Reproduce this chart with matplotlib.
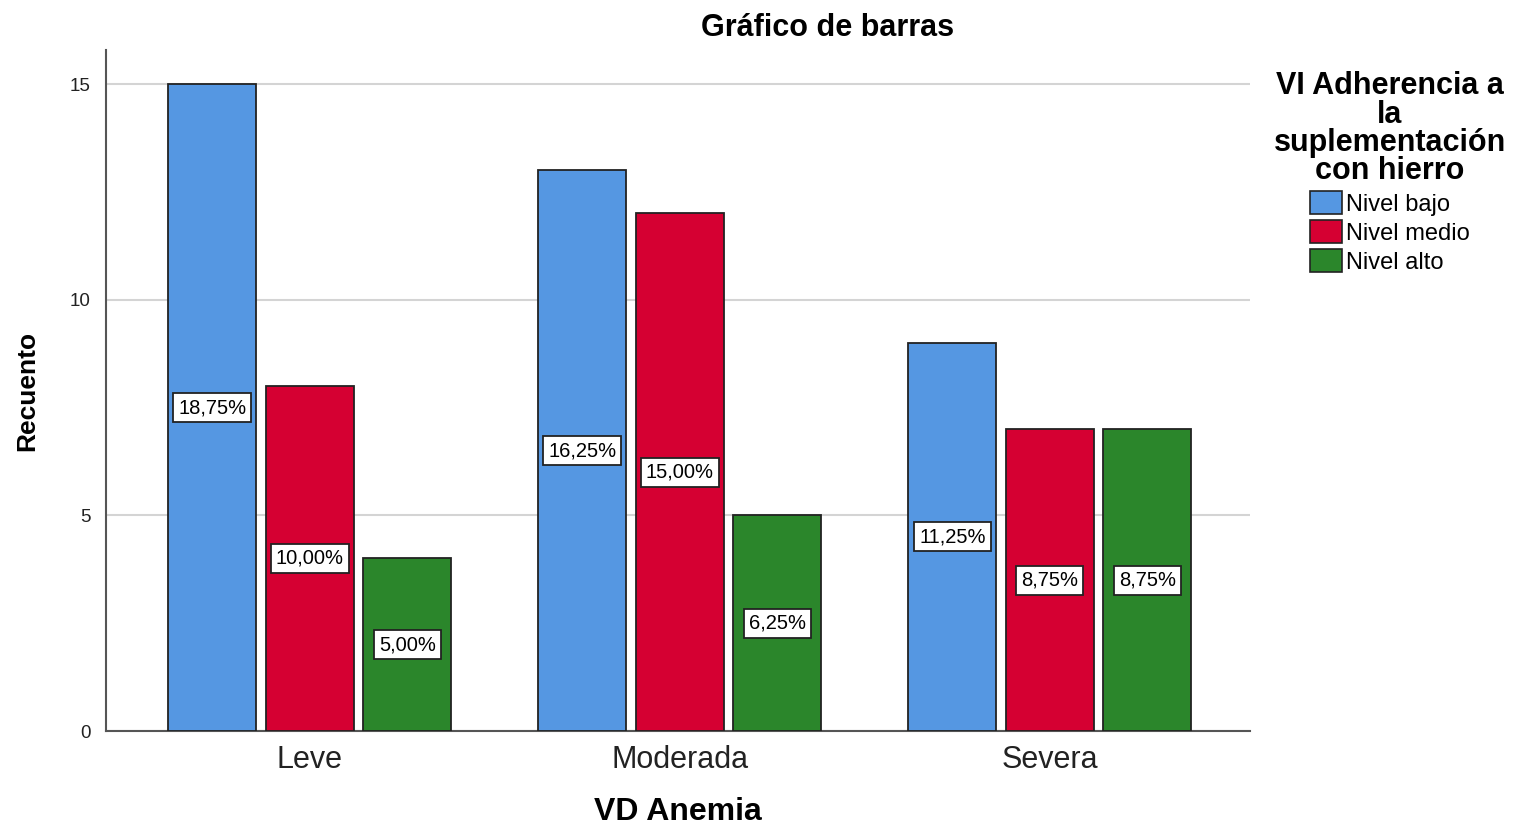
import numpy as np
import matplotlib.pyplot as plt
from matplotlib.patches import Patch

plt.rcParams['font.family'] = ['Liberation Sans', 'DejaVu Sans']

# datos del gráfico
categorias = ['Leve', 'Moderada', 'Severa']
niveles = ['Nivel bajo', 'Nivel medio', 'Nivel alto']
nivel_bajo = [15, 13, 9]
nivel_medio = [8, 12, 7]
nivel_alto = [4, 5, 7]
colores = ['#5597E2', '#D50032', '#2B862B']

series = [nivel_bajo, nivel_medio, nivel_alto]
total = sum(sum(s) for s in series)

W, H = 1517, 827
fig = plt.figure(figsize=(W / 100, H / 100), dpi=100)
ax = fig.add_axes([106 / W, 1 - 731 / H, (1250 - 106) / W, (731 - 50) / H])

x = np.arange(len(categorias))
ancho = 0.238
paso = 0.2635

for i, (vals, col) in enumerate(zip(series, colores)):
    pos = x + (i - 1) * paso
    ax.bar(pos, vals, width=ancho, color=col, edgecolor='#222222', linewidth=1.3, zorder=3)
    for px, v in zip(pos, vals):
        pct = f"{v / total * 100:.2f}".replace('.', ',') + '%'
        ax.text(px, v / 2, pct, ha='center', va='center', fontsize=14.5, zorder=4,
                bbox=dict(boxstyle='square,pad=0.25', facecolor='white', edgecolor='#222222', linewidth=1.3))

ax.set_xlim(-0.551, 2.541)
ax.set_ylim(0, 15.79)
ax.set_yticks([0, 5, 10, 15])
ax.set_yticklabels(['0', '5', '10', '15'], fontsize=13.5, color='#222222')
ax.set_xticks(x)
ax.set_xticklabels(categorias, fontsize=22, color='#222222')
ax.tick_params(axis='both', length=0)
ax.tick_params(axis='y', pad=11)
ax.tick_params(axis='x', pad=10)
ax.grid(axis='y', color='#d4d4d4', linewidth=1.5, zorder=0)
for s in ['top', 'right']:
    ax.spines[s].set_visible(False)
for s in ['left', 'bottom']:
    ax.spines[s].set_color('#555555')
    ax.spines[s].set_linewidth(1.5)

ax.set_ylabel('Recuento', fontsize=19, fontweight='bold', labelpad=22)
ax.set_xlabel('VD Anemia', fontsize=23, fontweight='bold', labelpad=16)

fig.text(828 / W, 1 - 28 / H, 'Gráfico de barras', ha='center', va='center',
         fontsize=22, fontweight='bold')

handles = [Patch(facecolor=c, edgecolor='#222222', linewidth=1.2) for c in colores]
leg = fig.legend(handles, niveles, loc='upper center', bbox_to_anchor=(1390 / W, 1 - 50 / H),
                 frameon=False, fontsize=17, handlelength=1.35, handleheight=1.1,
                 handletextpad=0.2, labelspacing=0.2,
                 title='VI Adherencia a\nla\nsuplementación\ncon hierro',
                 title_fontproperties={'weight': 'bold', 'size': 22})
leg.get_title().set_linespacing(0.93)
leg.get_title().set_ha('center')

fig.savefig('out.png', dpi=100)
